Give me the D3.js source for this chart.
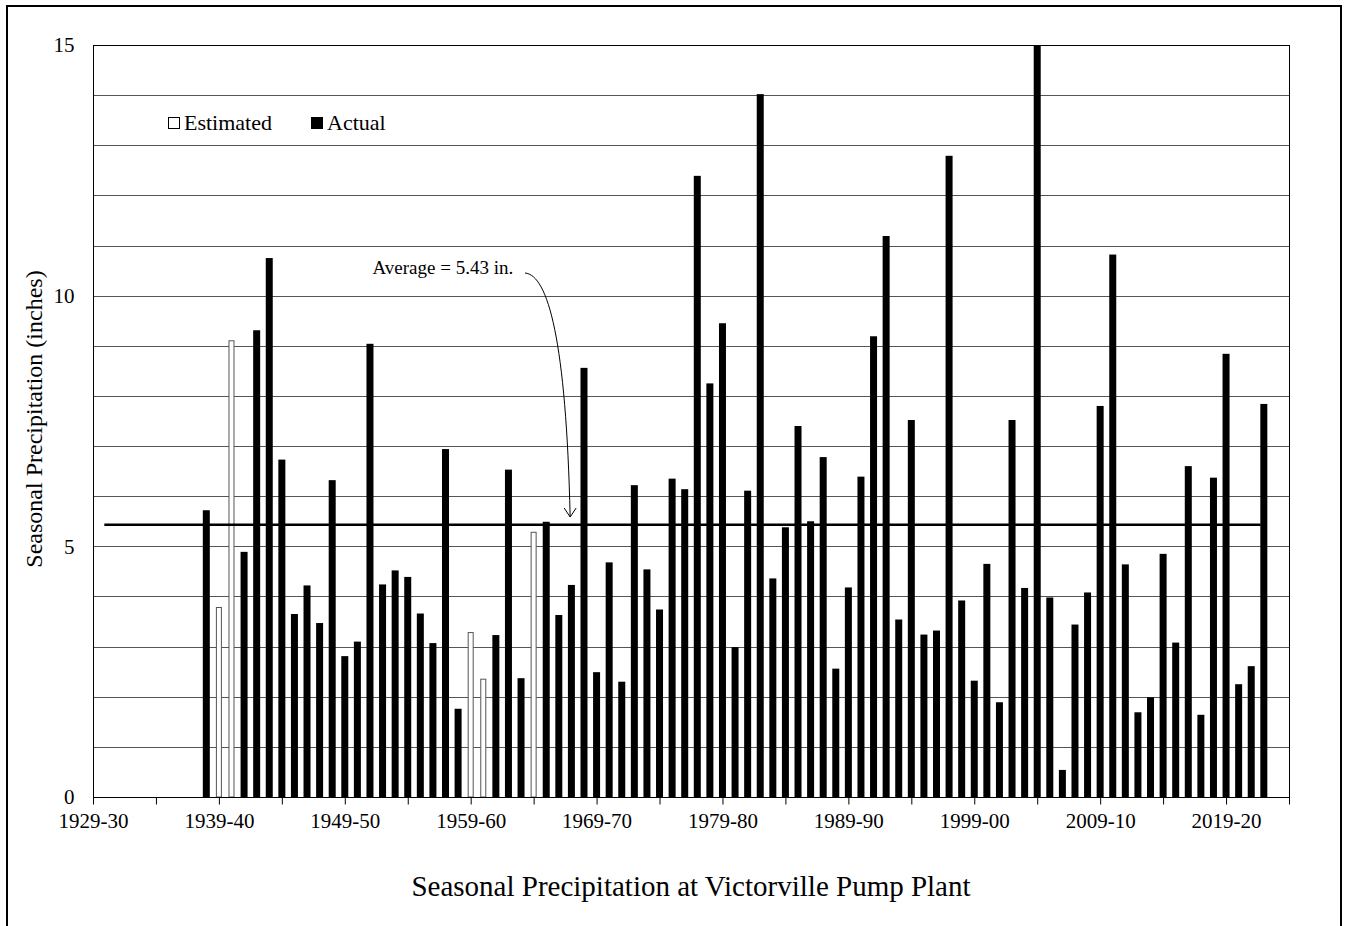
<!DOCTYPE html>
<html>
<head>
<meta charset="utf-8">
<script src="https://cdn.jsdelivr.net/npm/d3@7"></script>
<style>
  body { margin: 0; background: #fff; }
  text { font-family: "Liberation Serif", "Times New Roman", serif; fill: #000; }
</style>
</head>
<body>
<div id="chart"></div>
<script>
// seasonal precipitation, inches; season N is "N-(N+1)"
var firstSeason = 1938
var precip = [
  5.72, 3.78, 9.10, 4.89, 9.31, 10.75, 6.73, 3.65, 4.22, 3.47,
  6.32, 2.81, 3.10, 9.04, 4.24, 4.52, 4.39, 3.66, 3.07, 6.94,
  1.76, 3.28, 2.35, 3.23, 6.53, 2.37, 5.28, 5.49, 3.63, 4.23,
  8.56, 2.49, 4.68, 2.30, 6.22, 4.54, 3.74, 6.35, 6.14, 12.39,
  8.25, 9.45, 2.99, 6.11, 14.02, 4.36, 5.38, 7.40, 5.50, 6.78,
  2.56, 4.18, 6.39, 9.19, 11.19, 3.54, 7.52, 3.24, 3.32, 12.79,
  3.92, 2.32, 4.65, 1.89, 7.52, 4.17, 15.0, 3.98, 0.54, 3.44,
  4.08, 7.80, 10.82, 4.64, 1.69, 1.99, 4.85, 3.08, 6.60, 1.64,
  6.37, 8.84, 2.25, 2.61, 7.84
]
var estimatedSeasons = [1939, 1940, 1959, 1960, 1964]
var average = 5.43
var avgSpan = [1929.9, 2021.75]

var xTicks = [1929, 1934, 1939, 1944, 1949, 1954, 1959, 1964, 1969, 1974,
  1979, 1984, 1989, 1994, 1999, 2004, 2009, 2014, 2019, 2024]
var xLabels = [1929, 1939, 1949, 1959, 1969, 1979, 1989, 1999, 2009, 2019]
var yTicks = [0, 5, 10, 15]

var data = precip.map(function (v, i) {
  var yr = firstSeason + i
  return { season: yr, value: v, estimated: estimatedSeasons.indexOf(yr) >= 0 }
})

function seasonLabel(yr) {
  var nx = (yr + 1) % 100
  return yr + "-" + (nx < 10 ? "0" + nx : nx)
}

var width = 1354,
  height = 926

var svg = d3.select("#chart")
  .append("svg")
  .attr("width", width)
  .attr("height", height)

var x = d3.scaleLinear().domain([1929, 2024]).range([93, 1289])
var y = d3.scaleLinear().domain([0, 15]).range([797, 45])

// outer frame
svg.append("rect")
  .attr("x", 7)
  .attr("y", 6)
  .attr("width", 1334)
  .attr("height", 940)
  .attr("fill", "none")
  .attr("stroke", "#000")
  .attr("stroke-width", 2)

// gridlines every inch
svg.append("g")
  .selectAll("line")
  .data(d3.range(1, 15))
  .enter()
  .append("line")
  .attr("x1", x(1929))
  .attr("x2", x(2024))
  .attr("y1", function (d) { return Math.round(y(d)) + 0.5 })
  .attr("y2", function (d) { return Math.round(y(d)) + 0.5 })
  .attr("stroke", "#555")
  .attr("stroke-width", 1)

// bars
svg.append("g")
  .selectAll("rect")
  .data(data)
  .enter()
  .append("rect")
  .attr("x", function (d) { return d.estimated ? x(d.season) - 2.5 : x(d.season) - 3.5 })
  .attr("y", function (d) { return y(d.value) })
  .attr("width", function (d) { return d.estimated ? 5 : 7 })
  .attr("height", function (d) { return y(0) - y(d.value) })
  .attr("fill", function (d) { return d.estimated ? "#fff" : "#000" })
  .attr("stroke", function (d) { return d.estimated ? "#555" : "none" })
  .attr("stroke-width", 1)

// average line
svg.append("line")
  .attr("x1", x(avgSpan[0]))
  .attr("x2", x(avgSpan[1]))
  .attr("y1", y(average))
  .attr("y2", y(average))
  .attr("stroke", "#000")
  .attr("stroke-width", 2.5)

// plot frame
svg.append("rect")
  .attr("x", x(1929) + 0.5)
  .attr("y", Math.round(y(15)) + 0.5)
  .attr("width", x(2024) - x(1929))
  .attr("height", Math.round(y(0)) - Math.round(y(15)))
  .attr("fill", "none")
  .attr("stroke", "#000")
  .attr("stroke-width", 1)

// x axis
var xAxis = d3.axisBottom(x)
  .tickValues(xTicks)
  .tickSize(7)
  .tickPadding(9)
  .tickFormat(function (d) { return xLabels.indexOf(d) >= 0 ? seasonLabel(d) : "" })

var gx = svg.append("g")
  .attr("transform", "translate(0," + (Math.round(y(0)) + 0.5) + ")")
  .call(xAxis)
gx.select(".domain").remove()
gx.selectAll("line").attr("stroke", "#000")
gx.selectAll("text")
  .style("font-family", "Liberation Serif")
  .style("font-size", "21px")
  .attr("fill", "#000")

// y axis
var yAxis = d3.axisLeft(y)
  .tickValues(yTicks)
  .tickSize(0)
  .tickPadding(19)
  .tickFormat(d3.format("d"))

var gy = svg.append("g")
  .attr("transform", "translate(" + (x(1929) + 0.5) + ",0)")
  .call(yAxis)
gy.select(".domain").remove()
gy.selectAll("text")
  .style("font-family", "Liberation Serif")
  .style("font-size", "21px")
  .attr("fill", "#000")

// y label
svg.append("text")
  .attr("transform", "translate(42,419) rotate(-90)")
  .attr("text-anchor", "middle")
  .style("font-size", "24px")
  .text("Seasonal Precipitation (inches)")

// title
svg.append("text")
  .attr("x", 691)
  .attr("y", 896)
  .attr("text-anchor", "middle")
  .style("font-size", "29px")
  .text("Seasonal Precipitation at Victorville Pump Plant")

// legend
var legend = svg.append("g").attr("transform", "translate(168,117)")
legend.append("rect")
  .attr("x", 0.5).attr("y", 0.5)
  .attr("width", 11).attr("height", 11)
  .attr("fill", "#fff").attr("stroke", "#000")
legend.append("text")
  .attr("x", 16).attr("y", 13)
  .style("font-size", "22px")
  .text("Estimated")
legend.append("rect")
  .attr("x", 143).attr("y", 0)
  .attr("width", 12).attr("height", 12)
  .attr("fill", "#000")
legend.append("text")
  .attr("x", 159).attr("y", 13)
  .style("font-size", "22px")
  .text("Actual")

// average annotation
var noteAt = { season: 1951.2, value: 10.43 }
var tipAt = { season: 1966.9, value: 5.585 }
svg.append("text")
  .attr("x", x(noteAt.season))
  .attr("y", y(noteAt.value))
  .style("font-size", "19px")
  .text("Average = " + average + " in.")

var sx = 525, sy = 273,
  tx = x(tipAt.season), ty = y(tipAt.value)
svg.append("path")
  .attr("d", "M" + sx + "," + sy + " C" + (sx + 23) + "," + (sy + 2) + " " + (tx - 4) + "," + (sy + 67) + " " + tx + "," + ty)
  .attr("fill", "none")
  .attr("stroke", "#000")
  .attr("stroke-width", 1)
svg.append("path")
  .attr("d", "M" + (tx - 6) + "," + (ty - 9) + " L" + tx + "," + ty + " L" + (tx + 6) + "," + (ty - 9))
  .attr("fill", "none")
  .attr("stroke", "#000")
  .attr("stroke-width", 1)
</script>
</body>
</html>
